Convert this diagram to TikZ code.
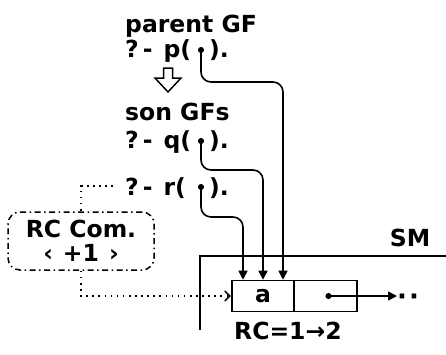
\documentclass[tikz,border=0pt]{standalone}
\usepackage{fontspec}
\setmainfont{DejaVu Sans}
\usepackage{tikz}
\usetikzlibrary{arrows.meta, positioning}

\begin{document}
\begin{tikzpicture}[
    x=1pt, y=-1pt,
    node distance=0pt,
    txt/.style={
        inner sep=0pt,
        font=\fontsize{23.5}{24}\selectfont\bfseries
    },
    cell/.style={
        txt,
        draw,
        line width=1.6pt,
        minimum width=62.5pt,
        minimum height=31pt
    },
    rcbox/.style={
        txt,
        draw,
        align=center,
        rounded corners=12pt,
        line width=1.5pt,
        dash pattern=on 6pt off 3.5pt on 1.5pt off 3.5pt,
        minimum width=146pt,
        minimum height=58pt
    },
    link/.style={line width=1.6pt, rounded corners=10pt,
        {Circle[length=6pt]}-{Triangle[length=9pt,width=9pt]}},
    dotlink/.style={line width=1.6pt, dash pattern=on 1.6pt off 4.5pt},
    frame/.style={line width=1.1pt}
]
\useasboundingbox (0,0) rectangle (446,354);

% Parent goal
\node[txt, anchor=base west] (parent) at (125,32) {parent GF};
\node[txt, anchor=base west] (popen) at (125,57) {?\hspace{4pt}-\hspace{11pt}p(};
\coordinate (pdot) at (201,47);
\node[txt, anchor=base west] (pclose) at (209,57) {).};

% Reduction arrow
\draw[line width=1.5pt] (163.5,68) -- (172.5,68) -- (172.5,78) -- (181,78)
    -- (168,92) -- (155,78) -- (163.5,78) -- cycle;

% Son goals
\node[txt, anchor=base west] (sons) at (125,120) {son GFs};
\node[txt, anchor=base west] (qopen) at (125,148) {?\hspace{4pt}-\hspace{11pt}q(};
\coordinate (qdot) at (201,138);
\node[txt, anchor=base west] (qclose) at (209,148) {).};
\node[txt, anchor=base west] (ropen) at (125,195) {?\hspace{4pt}-\hspace{11pt}r(};
\coordinate (rdot) at (201,184);
\node[txt, anchor=base west] (rclose) at (209,195) {).};

% Reference count command
\node[rcbox] (rccom) at (81,241) {RC Com.\\‹\hspace{10pt}+1\hspace{10pt}›};

% Shared memory
\draw[frame] (446,256) -| (200,330);
\node[txt, anchor=base] (sm) at (410,246) {SM};
\node[cell] (cella) at (263,296) {a};
\node[cell, right=-1.6pt of cella] (cellb) {};
\node[txt, anchor=base west, font=\fontsize{26}{26}\selectfont\bfseries] (more) at (397,305) {·\hspace{2pt}·};
\node[txt, anchor=base west] (rcnote) at (234,339) {RC=1→2};

% Arrows
\draw[link] (pdot) -- ++(0,35) -| ([xshift=20pt]cella.north);
\draw[link] (qdot) -- ++(0,32) -| (cella.north);
\draw[link] (rdot) -- ++(0,33) -| ([xshift=-20pt]cella.north);
\draw[link] (cellb.center) -- (cellb.center -| more.west);
\draw[dotlink] ([shift={(-12pt,9pt)}]ropen.base west) -| (rccom.north);
\draw[dotlink, -{Straight Barb[length=5pt,width=10pt]}] (rccom.south) |- (cella.west);

\end{tikzpicture}
\end{document}
